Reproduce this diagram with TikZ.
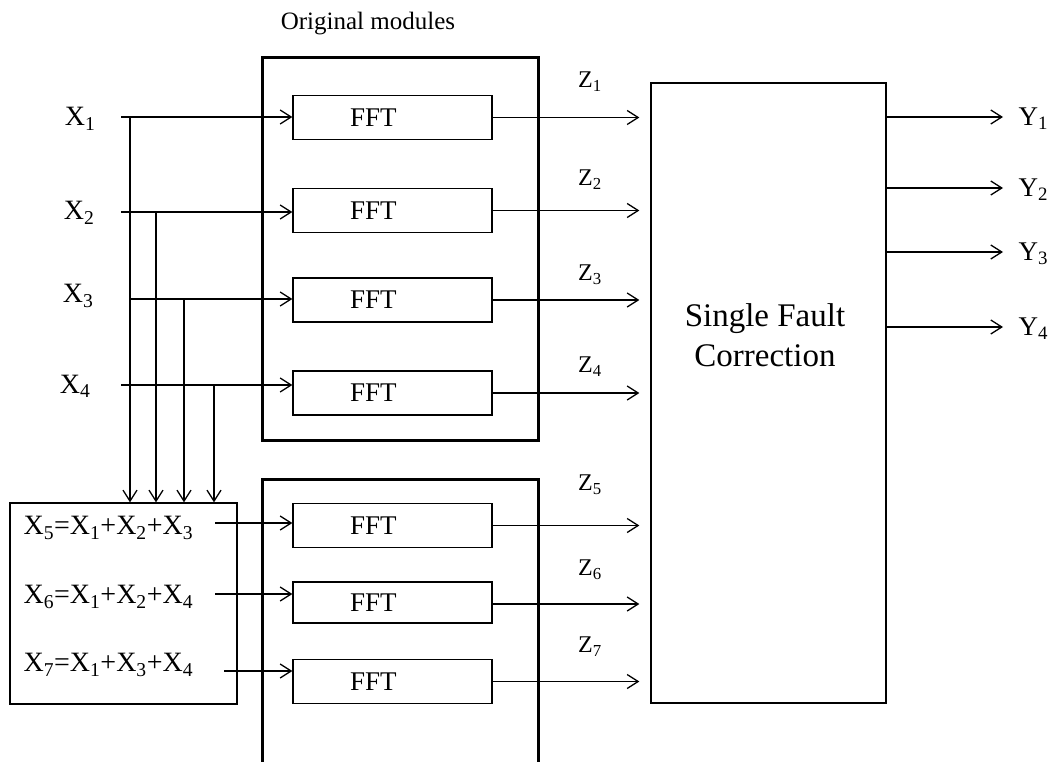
\documentclass[tikz,border=0pt]{standalone}
\usepackage{fontspec}
\setmainfont{Liberation Serif}
\usetikzlibrary{arrows.meta,positioning}

\begin{document}
\begin{tikzpicture}[x=1pt, y=-1pt, >={Straight Barb[length=11pt,width=14pt]}, line width=1.3pt,
    fft/.style={rectangle, draw, inner xsep=57pt, text width=85pt, align=left, minimum height=44pt, font=\fontsize{27}{30}\selectfont},
    module/.style={rectangle, draw, line width=3pt, minimum width=276pt},
    plainbox/.style={rectangle, draw},
    lbl/.style={font=\fontsize{28}{32}\selectfont, inner sep=0pt},
    ylbl/.style={font=\fontsize{27}{30}\selectfont, inner sep=0pt, anchor=west},
    zlbl/.style={font=\fontsize{24}{28}\selectfont, inner sep=0pt}]

    \useasboundingbox (0,0) rectangle (1052,762);

    % module frames
    \node [module, minimum height=382pt] (orig) at (400,249) {};
    \node [module, minimum height=330pt] (redund) at (400,644) {};
    \node [inner sep=0pt, font=\fontsize{25}{28}\selectfont] (origtxt) at (368,24) {Original modules};

    % FFT blocks
    \node [fft] (fft1) at (392.5,117.5) {FFT};
    \node [fft] (fft2) at (392.5,210.5) {FFT};
    \node [fft] (fft3) at (392.5,300) {FFT};
    \node [fft] (fft4) at (392.5,393) {FFT};
    \node [fft] (fft5) at (392.5,525.5) {FFT};
    \node [fft, minimum height=41pt] (fft6) at (392.5,602.5) {FFT};
    \node [fft] (fft7) at (392.5,681.5) {FFT};

    % inputs
    \node [lbl, anchor=east] (x1) at (96,119) {X\textsubscript{1}};
    \node [lbl, anchor=east] (x2) at (95,213) {X\textsubscript{2}};
    \node [lbl, anchor=east] (x3) at (94,296) {X\textsubscript{3}};
    \node [lbl, anchor=east] (x4) at (91,386) {X\textsubscript{4}};
    \coordinate (in1) at (121,117);
    \coordinate (in2) at (121,212);
    \coordinate (in3) at (130,299);
    \coordinate (in4) at (121,385);
    \coordinate (tap1) at (130,117);
    \coordinate (tap2) at (156,212);
    \coordinate (tap3) at (184,299);
    \coordinate (tap4) at (214,385);

    % encoder box
    \node [plainbox, minimum width=227pt, minimum height=201pt] (sum) at (123.5,603.5) {};
    \node [lbl, anchor=west] (eq5) at (23,528) {X\textsubscript{5}=X\textsubscript{1}+X\textsubscript{2}+X\textsubscript{3}};
    \node [lbl, anchor=west] (eq6) at (23,597) {X\textsubscript{6}=X\textsubscript{1}+X\textsubscript{2}+X\textsubscript{4}};
    \node [lbl, anchor=west] (eq7) at (23,665) {X\textsubscript{7}=X\textsubscript{1}+X\textsubscript{3}+X\textsubscript{4}};
    \coordinate (s5) at (215,523);
    \coordinate (s6) at (215,594);
    \coordinate (s7) at (224,671);

    % correction block
    \node [plainbox, minimum width=235pt, minimum height=620pt] (corr) at (768.5,393) {};
    \node [align=center, font=\fontsize{33}{40}\selectfont] (corrtxt) at (765,335) {Single Fault\\Correction};

    % Z labels
    \node [zlbl] (z1) at (590,82) {Z\textsubscript{1}};
    \node [zlbl] (z2) at (590,180) {Z\textsubscript{2}};
    \node [zlbl] (z3) at (590,275) {Z\textsubscript{3}};
    \node [zlbl] (z4) at (590,367) {Z\textsubscript{4}};
    \node [zlbl] (z5) at (590,485) {Z\textsubscript{5}};
    \node [zlbl] (z6) at (590,570) {Z\textsubscript{6}};
    \node [zlbl] (z7) at (590,647) {Z\textsubscript{7}};

    % outputs
    \node [ylbl] (y1) at (1018,119) {Y\textsubscript{1}};
    \node [ylbl] (y2) at (1018,190) {Y\textsubscript{2}};
    \node [ylbl] (y3) at (1018,254) {Y\textsubscript{3}};
    \node [ylbl] (y4) at (1018,329) {Y\textsubscript{4}};

    \draw [->] (in1) -- (in1 -| fft1.west);
    \draw [->] (in2) -- (in2 -| fft2.west);
    \draw [->] (in3) -- (in3 -| fft3.west);
    \draw [->] (in4) -- (in4 -| fft4.west);
    \draw [->] (tap1) -- (tap1 |- sum.north);
    \draw [->] (tap2) -- (tap2 |- sum.north);
    \draw [->] (tap3) -- (tap3 |- sum.north);
    \draw [->] (tap4) -- (tap4 |- sum.north);
    \draw [->] (s5) -- (s5 -| fft5.west);
    \draw [->] (s6) -- (s6 -| fft6.west);
    \draw [->] (s7) -- (s7 -| fft7.west);

    \draw [->, shorten >=11pt] (fft1.east) -- (fft1.east -| corr.west);
    \draw [->, shorten >=11pt] (fft2.east) -- (fft2.east -| corr.west);
    \draw [->, shorten >=11pt] (fft3.east) -- (fft3.east -| corr.west);
    \draw [->, shorten >=11pt] (fft4.east) -- (fft4.east -| corr.west);
    \draw [->, shorten >=11pt] (fft5.east) -- (fft5.east -| corr.west);
    \draw [->, shorten >=11pt] ([yshift=-1.5pt]fft6.east) -- ([yshift=-1.5pt]fft6.east -| corr.west);
    \draw [->, shorten >=11pt] (fft7.east) -- (fft7.east -| corr.west);

    \draw [->, shorten >=15pt] ([yshift=2pt]y1.west -| corr.east) -- ([yshift=2pt]y1.west);
    \draw [->, shorten >=15pt] ([yshift=2pt]y2.west -| corr.east) -- ([yshift=2pt]y2.west);
    \draw [->, shorten >=15pt] ([yshift=2pt]y3.west -| corr.east) -- ([yshift=2pt]y3.west);
    \draw [->, shorten >=15pt] ([yshift=2pt]y4.west -| corr.east) -- ([yshift=2pt]y4.west);
\end{tikzpicture}
\end{document}
